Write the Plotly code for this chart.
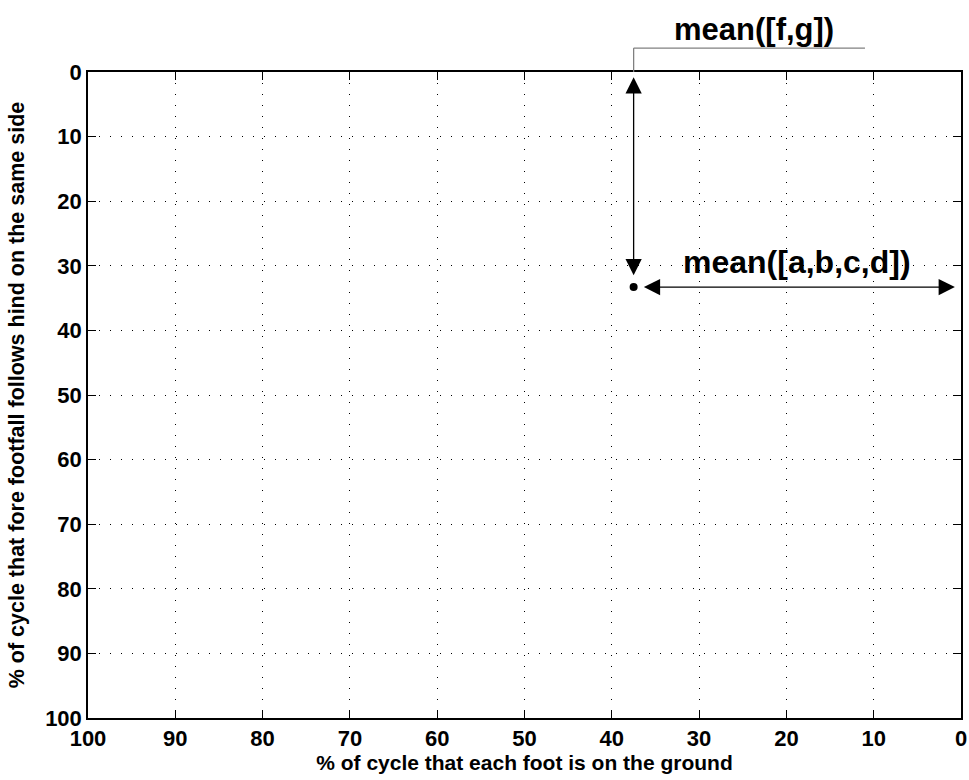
import plotly.graph_objects as go

# data
x_ticks = [0, 10, 20, 30, 40, 50, 60, 70, 80, 90, 100]
y_ticks = [0, 10, 20, 30, 40, 50, 60, 70, 80, 90, 100]
point_x = [37.5]
point_y = [33.3]
label_fg = "mean([f,g])"
label_abcd = "mean([a,b,c,d])"
x_title = "% of cycle that each foot is on the ground"
y_title = "% of cycle that fore footfall follows hind on the same side"

FONT = "Liberation Sans, Arial, sans-serif"
BOLD = lambda s: dict(family=FONT, size=s, color="black", weight="bold")

fig = go.Figure()
fig.add_trace(go.Scatter(x=point_x, y=point_y, mode="markers",
                         marker=dict(color="black", size=8), showlegend=False,
                         cliponaxis=False))

px, py = point_x[0], point_y[0]

# vertical double-headed arrow: from point up to y=0
fig.add_annotation(x=px, y=0.8, ax=px, ay=31.7, xref="x", yref="y",
                   axref="x", ayref="y", showarrow=True, arrowhead=2,
                   arrowside="end+start", arrowsize=2.5, arrowwidth=1.3,
                   arrowcolor="black", text="", startstandoff=0, standoff=0)
# horizontal double-headed arrow: from point to x=0
fig.add_annotation(x=0.7, y=py, ax=36.5, ay=py, xref="x", yref="y",
                   axref="x", ayref="y", showarrow=True, arrowhead=2,
                   arrowside="end+start", arrowsize=2.5, arrowwidth=1.3,
                   arrowcolor="black", text="", startstandoff=0, standoff=0)

# label connector line above plot (paper coords: reversed x axis 100->0)
xp = (100 - px) / 100
fig.add_shape(type="line", xref="paper", yref="paper", x0=xp, x1=xp,
              y0=1.0, y1=1.037, line=dict(color="#808080", width=1.3))
fig.add_shape(type="line", xref="paper", yref="paper", x0=xp, x1=(100 - 11) / 100,
              y0=1.037, y1=1.037, line=dict(color="#808080", width=1.3))

fig.add_annotation(x=23.7, y=1.066, xref="x", yref="paper", text=label_fg,
                   showarrow=False, font=BOLD(31), xanchor="center", yanchor="middle")
fig.add_annotation(x=18.8, y=py, xref="x", yref="y", text=label_abcd,
                   showarrow=False, font=BOLD(32), xanchor="center", yanchor="middle",
                   yshift=25)

axis_common = dict(
    showline=True, linecolor="black", linewidth=1.5, mirror="ticks",
    ticks="inside", ticklen=8, tickwidth=1, tickcolor="black",
    showgrid=True, gridcolor="black", gridwidth=1, griddash="1px,10px",
    zeroline=False, tickfont=BOLD(22), tickmode="array", automargin=False,
)

fig.update_xaxes(range=[100, 0], tickvals=x_ticks,
                 ticktext=[str(v) for v in x_ticks],
                 title=dict(text=x_title, font=BOLD(21), standoff=3),
                 **axis_common)
fig.update_yaxes(range=[100, 0], tickvals=y_ticks,
                 ticktext=[str(v) for v in y_ticks],
                 title=dict(text=y_title, font=BOLD(21.5), standoff=15),
                 **axis_common)

fig.update_layout(width=969, height=780,
                  margin=dict(l=88, r=8, t=72, b=62),
                  plot_bgcolor="white", paper_bgcolor="white",
                  font=dict(family=FONT, color="black"))

fig.write_html("out.html")
